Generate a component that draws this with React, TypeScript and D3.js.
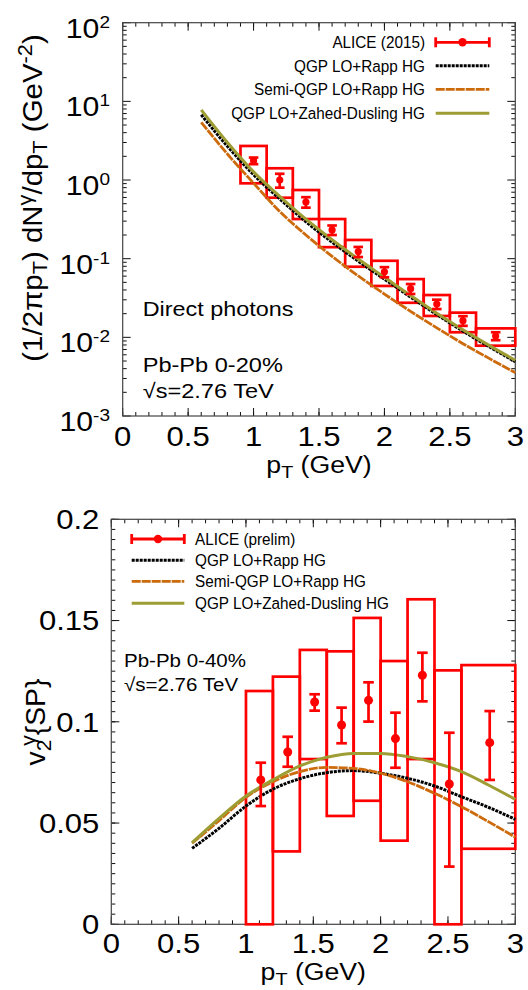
import React from 'react';
import * as d3 from 'd3';

const W = 528;
const H = 990;
const FONT = "'Liberation Sans', Arial, Helvetica, sans-serif";

const RED = '#ff0000';
const BLACK = '#000000';
const ORANGE = '#cc6a0c';
const OLIVE = '#9d9d33';

// ---- Direct photon spectrum (ALICE 2015), Pb-Pb 0-20% ----
const specPt = [1.0, 1.2, 1.4, 1.6, 1.8, 2.0, 2.2, 2.4, 2.6, 2.85];
const specBinLo = [0.9, 1.1, 1.3, 1.5, 1.7, 1.9, 2.1, 2.3, 2.5, 2.7];
const specBinHi = [1.1, 1.3, 1.5, 1.7, 1.9, 2.1, 2.3, 2.5, 2.7, 3.0];
const specYield = [1.76, 1.0, 0.525, 0.232, 0.123, 0.068, 0.0416, 0.0265, 0.0163, 0.0104];
const specStat = [0.17, 0.2, 0.08, 0.032, 0.018, 0.01, 0.006, 0.0036, 0.0023, 0.0012];
const specSysLo = [0.908, 0.596, 0.319, 0.14, 0.079, 0.045, 0.0275, 0.0187, 0.0116, 0.00783];
const specSysHi = [2.71, 1.41, 0.746, 0.319, 0.173, 0.094, 0.055, 0.0345, 0.0206, 0.013];

// model curves for the spectrum
const modelPt = [0.6, 0.8, 1.0, 1.2, 1.4, 1.6, 1.8, 2.0, 2.2, 2.4, 2.6, 2.8, 3.0];
const specQgpRapp = [6.76, 2.69, 1.17, 0.575, 0.295, 0.162, 0.093, 0.055, 0.0324, 0.0195, 0.012, 0.0076, 0.0049];
const specSemiRapp = [5.42, 2.14, 0.912, 0.398, 0.2, 0.107, 0.0603, 0.0355, 0.0214, 0.0132, 0.0083, 0.0054, 0.00355];
const specQgpZahed = [7.8, 3.0, 1.27, 0.62, 0.318, 0.174, 0.099, 0.058, 0.034, 0.0203, 0.0125, 0.0079, 0.0051];

// ---- Direct photon v2{SP} (ALICE prelim), Pb-Pb 0-40% ----
const v2Pt = [1.11, 1.31, 1.51, 1.71, 1.91, 2.11, 2.31, 2.51, 2.81];
const v2BinLo = [1.0, 1.2, 1.4, 1.6, 1.8, 2.0, 2.2, 2.4, 2.6];
const v2BinHi = [1.2, 1.4, 1.6, 1.8, 2.0, 2.2, 2.4, 2.6, 3.0];
const v2Val = [0.0713, 0.0851, 0.1098, 0.0984, 0.1106, 0.0917, 0.123, 0.0693, 0.0897];
const v2StatLo = [0.0584, 0.0778, 0.1055, 0.0894, 0.1001, 0.0773, 0.1101, 0.0285, 0.0713];
const v2StatHi = [0.0798, 0.0926, 0.1136, 0.107, 0.1195, 0.1045, 0.1341, 0.0946, 0.1053];
const v2SysLo = [0, 0.036, 0.0816, 0.0535, 0.061, 0.0413, 0.0816, 0, 0.0373];
const v2SysHi = [0.1152, 0.1223, 0.1355, 0.1348, 0.1513, 0.13, 0.1605, 0.1254, 0.128];

const v2QgpRapp = [0.0375, 0.0474, 0.0584, 0.0667, 0.0719, 0.0749, 0.0759, 0.0746, 0.0721, 0.0683, 0.063, 0.0578, 0.0518];
const v2SemiRapp = [0.04, 0.0512, 0.0627, 0.0704, 0.0754, 0.0775, 0.077, 0.0746, 0.0704, 0.0647, 0.0581, 0.0507, 0.043];
const v2QgpZahed = [0.0403, 0.0523, 0.0634, 0.0713, 0.0782, 0.0825, 0.0844, 0.0844, 0.0828, 0.0798, 0.0754, 0.0688, 0.0617];

const xTickVals = [0, 0.5, 1, 1.5, 2, 2.5, 3];
const xTickLabels = ['0', '0.5', '1', '1.5', '2', '2.5', '3'];
const logExps = [2, 1, 0, -1, -2, -3];
const v2TickVals = [0, 0.05, 0.1, 0.15, 0.2];
const v2TickLabels = ['0', '0.05', '0.1', '0.15', '0.2'];

const topLegend = ['ALICE (2015)', 'QGP LO+Rapp HG', 'Semi-QGP LO+Rapp HG', 'QGP LO+Zahed-Dusling HG'];
const botLegend = ['ALICE (prelim)', 'QGP LO+Rapp HG', 'Semi-QGP LO+Rapp HG', 'QGP LO+Zahed-Dusling HG'];

// panel frames
const P1 = { l: 122.7, r: 515.3, t: 22.7, b: 416 };
const P2 = { l: 111.3, r: 515.3, t: 519.3, b: 924.3 };

const x1 = d3.scaleLinear().domain([0, 3]).range([P1.l, P1.r]);
const y1 = d3.scaleLog().domain([1e-3, 1e2]).range([P1.b, P1.t]);
const x2 = d3.scaleLinear().domain([0, 3]).range([P2.l, P2.r]);
const y2 = d3.scaleLinear().domain([0, 0.2]).range([P2.b, P2.t]);

const curveStyles = [
  { color: BLACK, dash: '3 1' as string | undefined, width: 3 },
  { color: ORANGE, dash: '9 1' as string | undefined, width: 2.8 },
  { color: OLIVE, dash: undefined as string | undefined, width: 3 },
];

function STxt(props: {
  x: number; y: number; size: number; sx?: number; anchor?: string; rotate?: number;
  children: React.ReactNode;
}) {
  const { x, y, size, sx = 1, anchor = 'start', rotate, children } = props;
  const tr = `translate(${x},${y})${rotate ? ` rotate(${rotate})` : ''} scale(${sx},1)`;
  return (
    <text transform={tr} fontSize={size} fontFamily={FONT} textAnchor={anchor} fill="#000">
      {children}
    </text>
  );
}

function Frame(props: {
  p: { l: number; r: number; t: number; b: number };
  xs: (v: number) => number;
  ys: (v: number) => number;
  xMajor: number[];
  xMinor: number[];
  yMajor: number[];
  yMinor: number[];
}) {
  const { p, xs, ys, xMajor, xMinor, yMajor, yMinor } = props;
  const lines: React.ReactNode[] = [];
  const maj = 8;
  const min = 4;
  xMinor.forEach((v, i) => {
    const X = xs(v);
    lines.push(<line key={`xm${i}`} x1={X} x2={X} y1={p.b} y2={p.b - min} />);
    lines.push(<line key={`xmt${i}`} x1={X} x2={X} y1={p.t} y2={p.t + min} />);
  });
  xMajor.forEach((v, i) => {
    const X = xs(v);
    lines.push(<line key={`xM${i}`} x1={X} x2={X} y1={p.b} y2={p.b - maj} />);
    lines.push(<line key={`xMt${i}`} x1={X} x2={X} y1={p.t} y2={p.t + maj} />);
  });
  yMinor.forEach((v, i) => {
    const Y = ys(v);
    lines.push(<line key={`ym${i}`} x1={p.l} x2={p.l + min} y1={Y} y2={Y} />);
    lines.push(<line key={`ymr${i}`} x1={p.r} x2={p.r - min} y1={Y} y2={Y} />);
  });
  yMajor.forEach((v, i) => {
    const Y = ys(v);
    lines.push(<line key={`yM${i}`} x1={p.l} x2={p.l + maj} y1={Y} y2={Y} />);
    lines.push(<line key={`yMr${i}`} x1={p.r} x2={p.r - maj} y1={Y} y2={Y} />);
  });
  return (
    <g>
      <g stroke="#111" strokeWidth={1}>{lines}</g>
      <rect x={p.l} y={p.t} width={p.r - p.l} height={p.b - p.t} fill="none" stroke="#444" strokeWidth={1.2} />
    </g>
  );
}

function ErrMark(props: { x: number; y: number; lo: number; hi: number; cap: number; r: number }) {
  const { x, y, lo, hi, cap, r } = props;
  return (
    <g stroke={RED} strokeWidth={2.7} fill={RED}>
      <line x1={x} x2={x} y1={lo} y2={hi} />
      <line x1={x - cap} x2={x + cap} y1={lo} y2={lo} />
      <line x1={x - cap} x2={x + cap} y1={hi} y2={hi} />
      <circle cx={x} cy={y} r={r} stroke="none" />
    </g>
  );
}

function LegendSample(props: { kind: number; x0: number; x1: number; y: number }) {
  const { kind, x0, x1: xe, y } = props;
  if (kind === 0) {
    const xc = (x0 + xe) / 2;
    return (
      <g stroke={RED} strokeWidth={2.8} fill={RED}>
        <line x1={x0} x2={xe} y1={y} y2={y} />
        <line x1={x0} x2={x0} y1={y - 5} y2={y + 5} />
        <line x1={xe} x2={xe} y1={y - 5} y2={y + 5} />
        <circle cx={xc} cy={y} r={4.2} stroke="none" />
      </g>
    );
  }
  const s = curveStyles[kind - 1];
  return <line x1={x0} x2={xe} y1={y} y2={y} stroke={s.color} strokeWidth={s.width} strokeDasharray={s.dash} />;
}

export default function App() {
  const xMinorVals = d3.range(0, 31).map((i) => i / 10);
  const logMinor: number[] = [];
  for (let e = -3; e < 2; e++) for (let m = 2; m <= 9; m++) logMinor.push(m * Math.pow(10, e));
  const v2Minor = d3.range(0, 41).map((i) => i * 0.005);

  const line1 = d3
    .line<number>()
    .x((_, i) => x1(modelPt[i]))
    .y((d) => y1(d))
    .curve(d3.curveMonotoneX);
  const line2 = d3
    .line<number>()
    .x((_, i) => x2(modelPt[i]))
    .y((d) => y2(d))
    .curve(d3.curveMonotoneX);

  const specCurves = [specQgpRapp, specSemiRapp, specQgpZahed];
  const v2Curves = [v2QgpRapp, v2SemiRapp, v2QgpZahed];

  const tickSize = 27;
  const tickSx = 1.15;

  const topLegRows = [42.3, 65.7, 89.3, 113.3];
  const botLegRows = [539, 560.3, 581.3, 603.3];

  return (
    <svg width={W} height={H} style={{ position: 'absolute', left: 0, top: 0, background: '#fff' }}>
      <rect x={0} y={0} width={W} height={H} fill="#fff" />

      {/* ===== upper panel: invariant yield ===== */}
      <Frame
        p={P1}
        xs={x1}
        ys={y1}
        xMajor={xTickVals}
        xMinor={xMinorVals}
        yMajor={logExps.map((e) => Math.pow(10, e))}
        yMinor={logMinor}
      />
      <g fill="none" stroke={RED} strokeWidth={2.7}>
        {specPt.map((_, i) => (
          <rect
            key={i}
            x={x1(specBinLo[i])}
            y={y1(specSysHi[i])}
            width={x1(specBinHi[i]) - x1(specBinLo[i])}
            height={y1(specSysLo[i]) - y1(specSysHi[i])}
          />
        ))}
      </g>
      <g fill="none">
        {specCurves.map((c, k) => (
          <path
            key={k}
            d={line1(c) || ''}
            stroke={curveStyles[k].color}
            strokeWidth={curveStyles[k].width}
            strokeDasharray={curveStyles[k].dash}
          />
        ))}
      </g>
      {specPt.map((p, i) => (
        <ErrMark
          key={i}
          x={x1(p)}
          y={y1(specYield[i])}
          lo={y1(specYield[i] - specStat[i])}
          hi={y1(specYield[i] + specStat[i])}
          cap={4.8}
          r={3.6}
        />
      ))}

      {/* upper legend */}
      {topLegend.map((t, i) => (
        <g key={i}>
          <STxt x={425} y={topLegRows[i] + 6} size={17} sx={0.9} anchor="end">
            {t}
          </STxt>
          <LegendSample kind={i} x0={435.7} x1={489.3} y={topLegRows[i]} />
        </g>
      ))}

      <STxt x={142.7} y={316} size={20} sx={1.17}>Direct photons</STxt>
      <STxt x={142.7} y={371.7} size={20.5} sx={1.15}>Pb-Pb 0-20%</STxt>
      <STxt x={142.7} y={398.3} size={20.5} sx={1.15}>√s=2.76 TeV</STxt>

      {/* upper axes labels */}
      {xTickVals.map((v, i) => (
        <STxt key={i} x={x1(v)} y={445.7} size={tickSize} sx={tickSx} anchor="middle">
          {xTickLabels[i]}
        </STxt>
      ))}
      {logExps.map((e, i) => (
        <STxt key={i} x={110} y={y1(Math.pow(10, e)) + 15} size={tickSize} sx={1.12} anchor="end">
          10
          <tspan fontSize={17} dy={-10}>
            {String(e)}
          </tspan>
        </STxt>
      ))}
      <STxt x={(P1.l + P1.r) / 2} y={473.3} size={23} sx={1.16} anchor="middle">
        p<tspan fontSize={17} dy={5}>T</tspan>
        <tspan dy={-5}> (GeV)</tspan>
      </STxt>
      <STxt x={41.5} y={198} size={27} sx={1.09} anchor="middle" rotate={-90}>
        (1/2πp<tspan fontSize={20} dy={5}>T</tspan>
        <tspan dy={-5}>) dN</tspan>
        <tspan fontSize={20} dy={-10}>γ</tspan>
        <tspan dy={10}>/dp</tspan>
        <tspan fontSize={20} dy={5}>T</tspan>
        <tspan dy={-5}> (GeV</tspan>
        <tspan fontSize={20} dy={-10}>-2</tspan>
        <tspan dy={10}>)</tspan>
      </STxt>

      {/* ===== lower panel: elliptic flow ===== */}
      <Frame
        p={P2}
        xs={x2}
        ys={y2}
        xMajor={xTickVals}
        xMinor={xMinorVals}
        yMajor={v2TickVals}
        yMinor={v2Minor}
      />
      <g fill="none" stroke={RED} strokeWidth={2.7}>
        {v2Pt.map((_, i) => (
          <rect
            key={i}
            x={x2(v2BinLo[i])}
            y={y2(v2SysHi[i])}
            width={x2(v2BinHi[i]) - x2(v2BinLo[i])}
            height={y2(v2SysLo[i]) - y2(v2SysHi[i])}
          />
        ))}
      </g>
      <g fill="none">
        {v2Curves.map((c, k) => (
          <path
            key={k}
            d={line2(c) || ''}
            stroke={curveStyles[k].color}
            strokeWidth={curveStyles[k].width}
            strokeDasharray={curveStyles[k].dash}
          />
        ))}
      </g>
      {v2Pt.map((p, i) => (
        <ErrMark
          key={i}
          x={x2(p)}
          y={y2(v2Val[i])}
          lo={y2(v2StatLo[i])}
          hi={y2(v2StatHi[i])}
          cap={5.3}
          r={4.5}
        />
      ))}

      {/* lower legend */}
      {botLegend.map((t, i) => (
        <g key={i}>
          <LegendSample kind={i} x0={131.7} x1={184.3} y={botLegRows[i]} />
          <STxt x={195} y={botLegRows[i] + 6} size={17} sx={0.9}>
            {t}
          </STxt>
        </g>
      ))}

      <STxt x={124} y={667.3} size={19} sx={1.08}>Pb-Pb 0-40%</STxt>
      <STxt x={124} y={690.7} size={19} sx={1.08}>√s=2.76 TeV</STxt>

      {xTickVals.map((v, i) => (
        <STxt key={i} x={x2(v)} y={953.3} size={tickSize} sx={tickSx} anchor="middle">
          {xTickLabels[i]}
        </STxt>
      ))}
      {v2TickVals.map((v, i) => (
        <STxt key={i} x={99.3} y={y2(v) + 9.7} size={tickSize} sx={tickSx} anchor="end">
          {v2TickLabels[i]}
        </STxt>
      ))}
      <STxt x={(P2.l + P2.r) / 2} y={979.5} size={23} sx={1.16} anchor="middle">
        p<tspan fontSize={17} dy={5}>T</tspan>
        <tspan dy={-5}> (GeV)</tspan>
      </STxt>
      <STxt x={45} y={722} size={27} sx={1.05} anchor="middle" rotate={-90}>
        v<tspan fontSize={20} dy={6}>2</tspan>
        <tspan fontSize={20} dx={-6} dy={-16}>γ</tspan>
        <tspan dy={10}>{'{SP}'}</tspan>
      </STxt>
    </svg>
  );
}
